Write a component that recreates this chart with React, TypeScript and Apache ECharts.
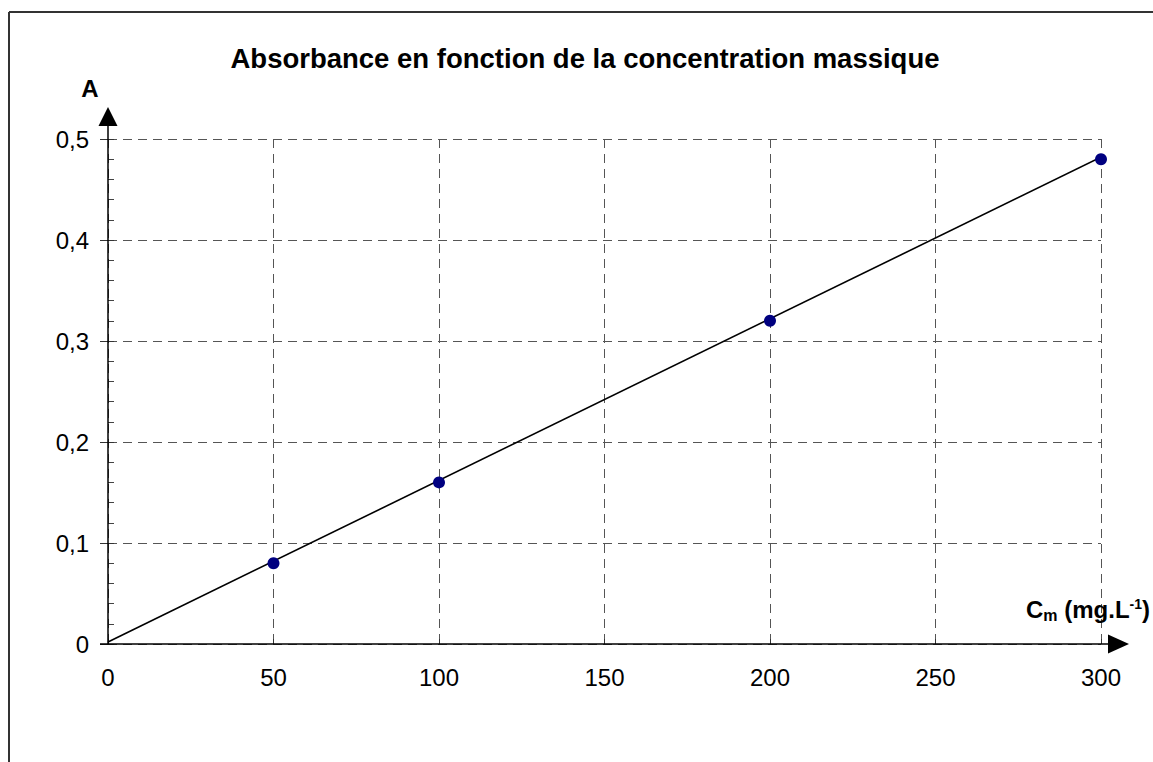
import React, { useEffect, useRef } from "react";
import * as echarts from "echarts";

const concentrations = [50, 100, 200, 300];
const absorbances = [0.08, 0.16, 0.32, 0.48];
const fitX = [0, 306];
const fitY = [0.002, 0.4916];
const xTicks = [0, 50, 100, 150, 200, 250, 300];
const yTicks = [0, 0.1, 0.2, 0.3, 0.4, 0.5];

const FONT = "'Liberation Sans', Arial, sans-serif";

export default function App() {
  const ref = useRef<HTMLDivElement>(null);
  useEffect(() => {
    if (!ref.current) return;
    const chart = echarts.init(ref.current, undefined, { renderer: "svg" });
    const gridDash = { color: "#555", width: 1, type: [9, 6] as any };
    const option: any = {
      animation: false,
      backgroundColor: "#fff",
      grid: { left: 108, right: 52, top: 139, bottom: 118, containLabel: false },
      xAxis: {
        type: "value",
        min: xTicks[0],
        max: xTicks[xTicks.length - 1],
        interval: 50,
        axisLine: { show: false },
        axisTick: { show: true, inside: true, length: 5, lineStyle: { color: "#333" } },
        axisLabel: { color: "#000", fontSize: 24, fontFamily: FONT, margin: 21 },
        splitLine: { show: true, lineStyle: gridDash },
      },
      yAxis: [
        {
          type: "value",
          min: yTicks[0],
          max: yTicks[yTicks.length - 1],
          interval: 0.1,
          axisLine: { show: false },
          axisTick: { show: true, inside: true, length: 6, lineStyle: { color: "#333" } },
          minorTick: { show: true, splitNumber: 5, length: 6, lineStyle: { color: "#444" } },
          axisLabel: {
            color: "#000",
            fontSize: 24,
            fontFamily: FONT,
            margin: 19,
            formatter: (v: number) => String(Number(v.toFixed(2))).replace(".", ","),
          },
          splitLine: { show: true, lineStyle: gridDash },
        },
        {
          type: "value",
          position: "left",
          min: yTicks[0],
          max: yTicks[yTicks.length - 1],
          interval: 0.1,
          axisLine: { show: false },
          axisTick: { show: true, inside: false, length: 8, lineStyle: { color: "#333" } },
          axisLabel: { show: false },
          splitLine: { show: false },
        },
      ],
      series: [
        {
          type: "line",
          data: fitX.map((x, i) => [x, fitY[i]]),
          showSymbol: false,
          symbol: "none",
          clip: false,
          lineStyle: { color: "#000", width: 1.6 },
          z: 3,
        },
        {
          type: "scatter",
          data: concentrations.map((x, i) => [x, absorbances[i]]),
          symbol: "circle",
          symbolSize: 12,
          itemStyle: { color: "#000080", opacity: 1 },
          z: 4,
        },
      ],
    };
    chart.setOption(option);

    const p0 = chart.convertToPixel({ gridIndex: 0 }, [0, 0]) as number[];
    const pX = chart.convertToPixel({ gridIndex: 0 }, [300, 0]) as number[];
    const pY = chart.convertToPixel({ gridIndex: 0 }, [0, 0.5]) as number[];
    const axisStyle = { stroke: "#000", lineWidth: 1.5 };
    const arrowStyle = { fill: "#000" };
    chart.setOption({
      graphic: [
        { type: "line", z: 10, shape: { x1: 9, y1: 12, x2: 1153, y2: 12 }, style: { stroke: "#333", lineWidth: 2 } },
        { type: "line", z: 10, shape: { x1: 9, y1: 12, x2: 9, y2: 762 }, style: { stroke: "#333", lineWidth: 2 } },
        {
          type: "text",
          z: 10,
          x: 585,
          y: 58,
          style: {
            text: "Absorbance en fonction de la concentration massique",
            font: `bold 27.5px ${FONT}`,
            fill: "#000",
            textAlign: "center",
            textVerticalAlign: "middle",
          },
        },
        { type: "line", z: 10, shape: { x1: p0[0], y1: p0[1], x2: p0[0], y2: pY[1] - 13 }, style: axisStyle },
        {
          type: "polygon",
          z: 10,
          shape: { points: [[p0[0] - 9.5, pY[1] - 13], [p0[0] + 9.5, pY[1] - 13], [p0[0], pY[1] - 32]] },
          style: arrowStyle,
        },
        { type: "line", z: 10, shape: { x1: p0[0] - 8, y1: p0[1], x2: pX[0] + 8, y2: p0[1] }, style: axisStyle },
        {
          type: "polygon",
          z: 10,
          shape: { points: [[pX[0] + 7, p0[1] - 9.5], [pX[0] + 7, p0[1] + 9.5], [pX[0] + 28, p0[1]]] },
          style: arrowStyle,
        },
        {
          type: "text",
          z: 10,
          x: 90,
          y: 88,
          style: { text: "A", font: `bold 24px ${FONT}`, fill: "#000", textAlign: "center", textVerticalAlign: "middle" },
        },
        {
          type: "text",
          z: 10,
          x: 1150,
          y: 609,
          style: {
            text: "{b|C}{s|m}{b| (mg.L}{p|-1}{b|)}",
            textAlign: "right",
            textVerticalAlign: "middle",
            rich: {
              b: { font: `bold 24px ${FONT}`, fill: "#000", lineHeight: 32, verticalAlign: "middle" },
              s: { font: `bold 16px ${FONT}`, fill: "#000", lineHeight: 32, verticalAlign: "bottom", padding: [0, 0, 2, 0] },
              p: { font: `bold 14px ${FONT}`, fill: "#000", lineHeight: 32, verticalAlign: "top", padding: [4, 0, 0, 0] },
            },
          },
        },
      ],
    });

    return () => chart.dispose();
  }, []);
  return <div ref={ref} style={{ position: "absolute", left: 0, top: 0, width: 1153, height: 762 }} />;
}
